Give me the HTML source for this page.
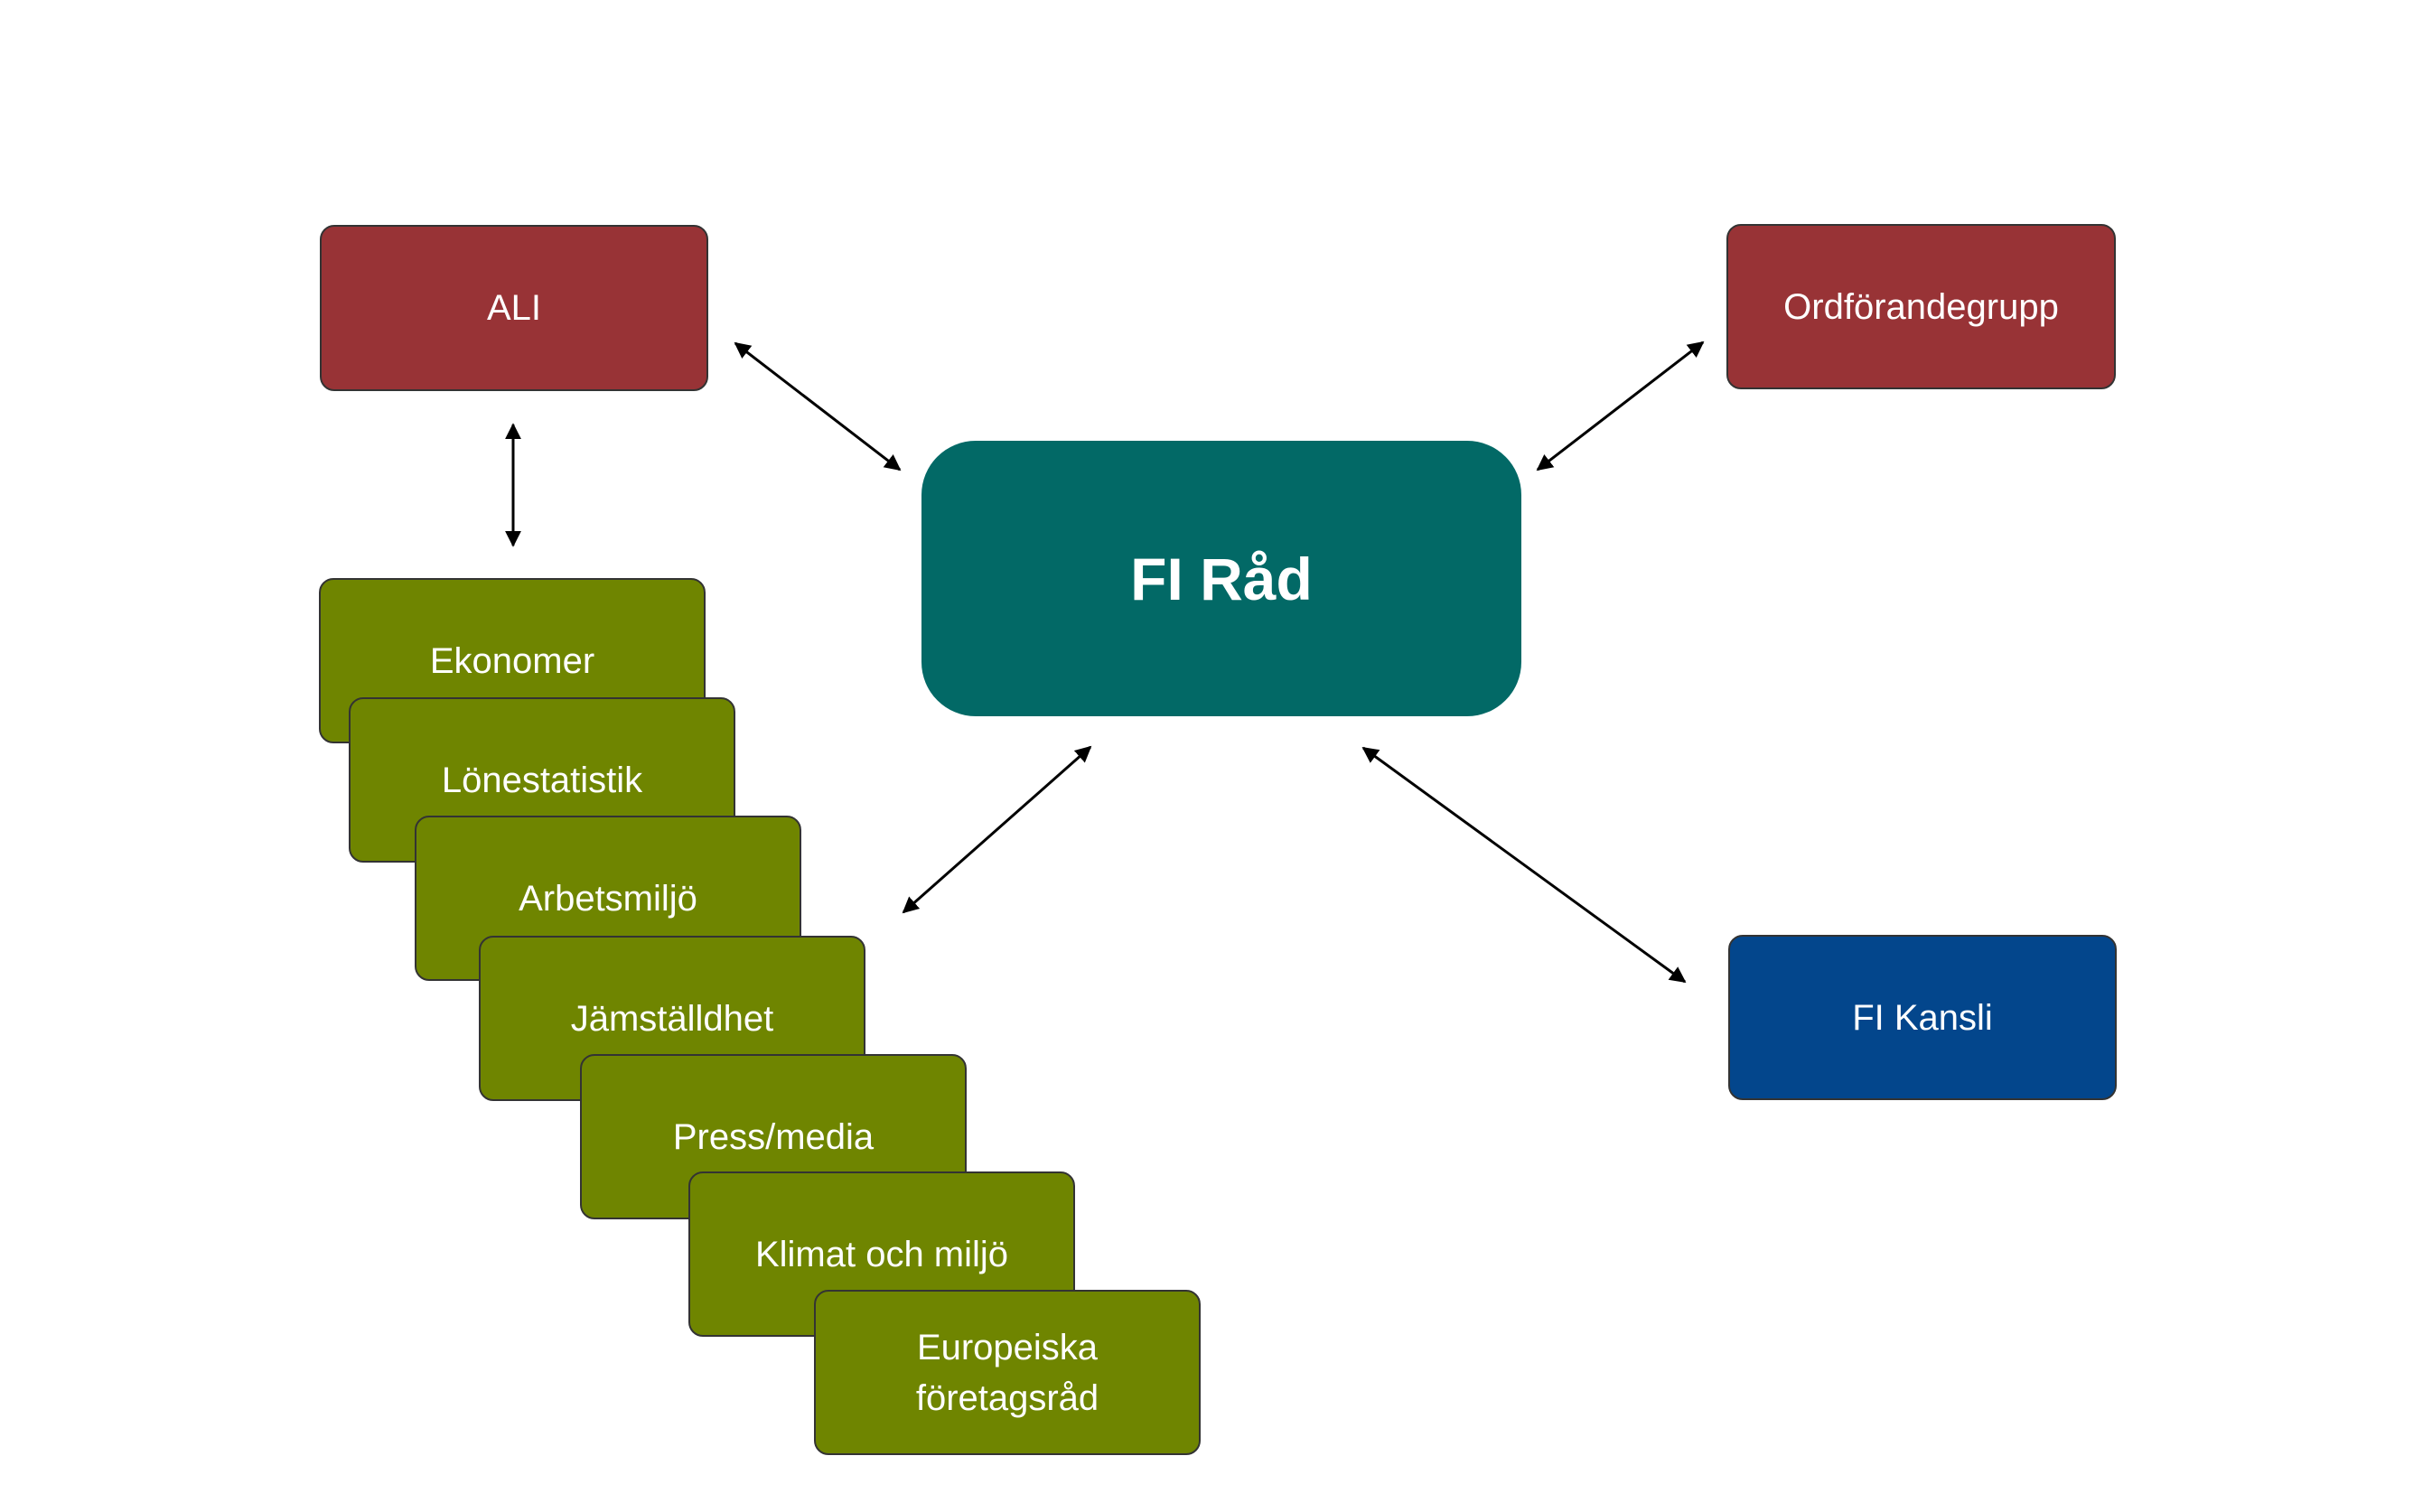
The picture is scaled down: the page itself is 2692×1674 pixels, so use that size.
<!DOCTYPE html>
<html><head><meta charset="utf-8"><style>
body{margin:0;width:2692px;height:1674px;background:#fff;position:relative;overflow:hidden;font-family:"Liberation Sans",sans-serif}
.b{position:absolute;box-sizing:border-box;border:2px solid #333;border-radius:16px;color:#fff;display:flex;align-items:center;justify-content:center;text-align:center;font-size:40px;line-height:56px}
.r{background:#983336}.g{background:#6f8500;width:428px;height:183px}
svg{position:absolute;left:0;top:0}
</style></head><body>
<div class="b r" style="left:354px;top:249px;width:430px;height:184px">ALI</div>
<div class="b r" style="left:1911px;top:248px;width:431px;height:183px">Ordförandegrupp</div>
<div class="b" style="left:1913px;top:1035px;width:430px;height:183px;background:#03468c">FI Kansli</div>
<div class="b" style="left:1020px;top:488px;width:664px;height:305px;background:#026966;border:none;border-radius:60px;font-size:66px;font-weight:bold">FI Råd</div>
<div class="b g" style="left:353px;top:640px">Ekonomer</div>
<div class="b g" style="left:386px;top:772px">Lönestatistik</div>
<div class="b g" style="left:459px;top:903px">Arbetsmiljö</div>
<div class="b g" style="left:530px;top:1036px">Jämställdhet</div>
<div class="b g" style="left:642px;top:1167px">Press/media</div>
<div class="b g" style="left:762px;top:1297px">Klimat och miljö</div>
<div class="b g" style="left:901px;top:1428px">Europeiska<br>företagsråd</div>
<svg width="2692" height="1674">
<defs><marker id="a" viewBox="0 0 10 10" refX="9" refY="5" markerWidth="6" markerHeight="6" orient="auto-start-reverse"><path d="M0,0L10,5L0,10z" fill="#000"/></marker></defs>
<g stroke="#000" stroke-width="3" marker-start="url(#a)" marker-end="url(#a)">
<line x1="568" y1="470" x2="568" y2="604"/>
<line x1="814" y1="380" x2="996" y2="520"/>
<line x1="1885" y1="379" x2="1702" y2="520"/>
<line x1="1509" y1="828" x2="1865" y2="1087"/>
<line x1="1207" y1="827" x2="1000" y2="1010"/>
</g></svg>
</body></html>
